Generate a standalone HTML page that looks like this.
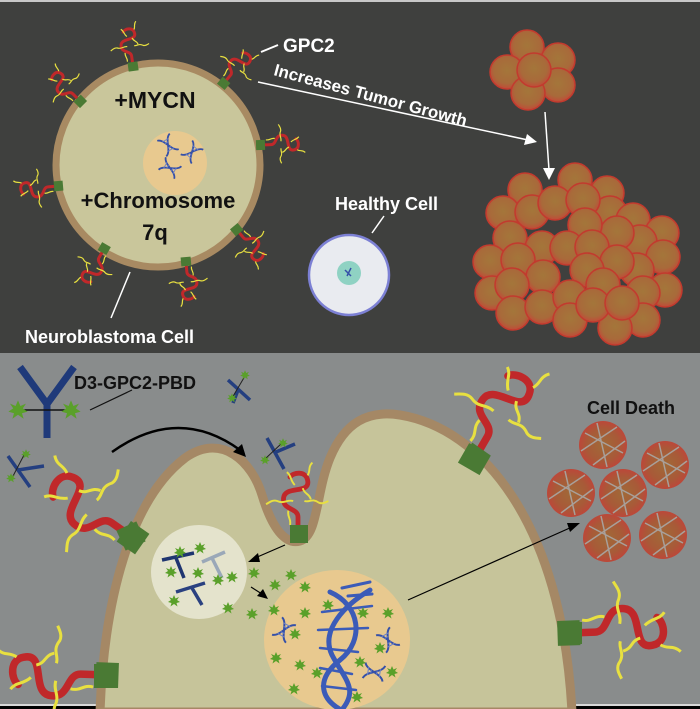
<!DOCTYPE html>
<html><head><meta charset="utf-8"><style>
html,body{margin:0;padding:0;background:#000;}
svg{display:block;}
text{font-family:"Liberation Sans",Arial,sans-serif;font-weight:bold;}
</style></head><body>
<svg width="700" height="709" viewBox="0 0 700 709" xmlns="http://www.w3.org/2000/svg">
<defs>
<radialGradient id="tg" cx="50%" cy="45%" r="55%">
<stop offset="0" stop-color="#a4763a"/><stop offset="0.7" stop-color="#a86a3a"/><stop offset="1" stop-color="#c24a38"/>
</radialGradient>
<radialGradient id="dg" cx="50%" cy="50%" r="55%">
<stop offset="0" stop-color="#a06a38"/><stop offset="0.6" stop-color="#a85a38"/><stop offset="1" stop-color="#c2423a"/>
</radialGradient>
<g id="rec">
<path d="M0,0 L0,-10 C0,-16 -10,-14 -9,-22 C-8,-30 8,-24 6,-33 C5,-39 -3,-38 -5,-35" fill="none" stroke="#c0282a" stroke-width="3" stroke-linecap="round"/>
<path d="M-3,-20 c-4,-1 -6,2 -10,0 c-3,-1 -5,1 -7,2 M4,-20 c3,1 5,-2 9,1 c2,1 4,0 6,-1 M-2,-30 c-3,-3 -2,-6 -5,-8 M3,-28 c1,4 4,3 5,7 M-6,-14 c-1,4 2,5 1,9 M6,-36 c2,-3 0,-5 3,-8" fill="none" stroke="#e8e040" stroke-width="1.2"/>
<rect x="-5" y="-4" width="10" height="9" fill="#4a7a34"/>
</g>
<g id="star">
<polygon points="0,-6 1.5,-2.5 5,-4 3,-1 6,1 2.5,2 3.5,5.5 0,3 -3.5,5.5 -2.5,2 -6,1 -3,-1 -5,-4 -1.5,-2.5" fill="#5aa02a"/>
<circle r="2.8" fill="#5aa02a"/>
</g>
<g id="dna">
<path d="M-8,-10 C0,-8 0,8 8,10 M8,-10 C0,-8 0,8 -8,10" stroke="#3550a8" stroke-width="2" fill="none"/>
<path d="M-4,-6 L4,-6 M-2,-3 L2,-3 M-2,3 L2,3 M-4,6 L4,6" stroke="#6a80c8" stroke-width="1"/>
</g>
<g id="tc"><circle r="17" fill="url(#tg)" stroke="#c23a2e" stroke-width="1.5"/></g>
<g id="dc"><circle r="24" fill="url(#dg)"/>
<path d="M-18,-12 L20,8 M-6,-22 L4,22 M-22,6 L14,-18 M-10,20 L22,-4" stroke="#a8a09a" stroke-width="1.5"/></g>
</defs>

<rect x="0" y="0" width="700" height="353" fill="#3f403e"/>
<rect x="0" y="0" width="700" height="2" fill="#c8c8c8"/>
<rect x="0" y="353" width="700" height="353" fill="#898c8c"/>
<rect x="0" y="704" width="700" height="2" fill="#d8d8d8"/>
<rect x="0" y="706" width="700" height="3" fill="#000"/>

<circle cx="158" cy="165" r="102" fill="#c9c69b" stroke="#a88a62" stroke-width="7"/>
<circle cx="175" cy="163" r="32" fill="#e8c98f"/>
<use href="#dna" transform="translate(168,145) rotate(-30) scale(0.9)"/>
<use href="#dna" transform="translate(192,152) rotate(40) scale(0.9)"/>
<use href="#dna" transform="translate(170,168) rotate(-60) scale(0.9)"/>

<use href="#rec" transform="translate(133,66) rotate(-8)"/>
<use href="#rec" transform="translate(80,101) rotate(-45)"/>
<use href="#rec" transform="translate(224,83) rotate(40)"/>
<use href="#rec" transform="translate(261,145) rotate(88)"/>
<use href="#rec" transform="translate(58,186) rotate(-95)"/>
<use href="#rec" transform="translate(237,230) rotate(140)"/>
<use href="#rec" transform="translate(186,262) rotate(175)"/>
<use href="#rec" transform="translate(104,249) rotate(-150)"/>

<text x="155" y="108" font-size="23" fill="#111" text-anchor="middle">+MYCN</text>
<text x="158" y="208" font-size="22" fill="#111" text-anchor="middle">+Chromosome</text>
<text x="155" y="240" font-size="22" fill="#111" text-anchor="middle">7q</text>

<line x1="261" y1="52" x2="278" y2="45" stroke="#fff" stroke-width="2"/>
<text x="283" y="52" font-size="19" fill="#fff">GPC2</text>
<text x="273" y="75" font-size="17" fill="#fff" transform="rotate(15 273 75)">Increases Tumor Growth</text>
<line x1="258" y1="82" x2="528" y2="140" stroke="#fff" stroke-width="1.5"/>
<polygon points="537,142 524,145 527,134" fill="#fff"/>
<line x1="545" y1="112" x2="549" y2="170" stroke="#fff" stroke-width="1.5"/>
<polygon points="549,180 543,168 555,168" fill="#fff"/>

<circle cx="349" cy="275" r="40" fill="#e9ebf0" stroke="#7c80d4" stroke-width="2.5"/>
<circle cx="349" cy="273" r="12" fill="#8fd2c3"/>
<path d="M345,270 l6,6 M351,268 l-4,8" stroke="#3550a8" stroke-width="1.5"/>
<line x1="372" y1="233" x2="384" y2="216" stroke="#fff" stroke-width="1.5"/>
<text x="335" y="210" font-size="18" fill="#fff">Healthy Cell</text>

<line x1="130" y1="272" x2="111" y2="318" stroke="#fff" stroke-width="1.5"/>
<text x="25" y="343" font-size="18" fill="#fff">Neuroblastoma Cell</text>

<use href="#tc" transform="translate(527,47)"/>
<use href="#tc" transform="translate(558,60)"/>
<use href="#tc" transform="translate(507,72)"/>
<use href="#tc" transform="translate(558,85)"/>
<use href="#tc" transform="translate(528,93)"/>
<use href="#tc" transform="translate(534,70)"/>

<g>
<use href="#tc" transform="translate(525,190)"/><use href="#tc" transform="translate(575,180)"/><use href="#tc" transform="translate(607,193)"/>
<use href="#tc" transform="translate(503,213)"/><use href="#tc" transform="translate(610,213)"/><use href="#tc" transform="translate(633,220)"/><use href="#tc" transform="translate(662,233)"/>
<use href="#tc" transform="translate(532,212)"/><use href="#tc" transform="translate(555,203)"/><use href="#tc" transform="translate(583,200)"/>
<use href="#tc" transform="translate(510,238)"/><use href="#tc" transform="translate(640,242)"/><use href="#tc" transform="translate(617,233)"/>
<use href="#tc" transform="translate(542,248)"/><use href="#tc" transform="translate(585,225)"/><use href="#tc" transform="translate(567,248)"/><use href="#tc" transform="translate(592,247)"/>
<use href="#tc" transform="translate(663,257)"/><use href="#tc" transform="translate(665,290)"/><use href="#tc" transform="translate(637,270)"/>
<use href="#tc" transform="translate(490,262)"/><use href="#tc" transform="translate(492,293)"/><use href="#tc" transform="translate(518,260)"/>
<use href="#tc" transform="translate(617,262)"/><use href="#tc" transform="translate(587,270)"/><use href="#tc" transform="translate(543,277)"/>
<use href="#tc" transform="translate(512,285)"/><use href="#tc" transform="translate(643,293)"/><use href="#tc" transform="translate(603,285)"/>
<use href="#tc" transform="translate(513,313)"/><use href="#tc" transform="translate(542,307)"/><use href="#tc" transform="translate(570,297)"/>
<use href="#tc" transform="translate(570,320)"/><use href="#tc" transform="translate(643,320)"/><use href="#tc" transform="translate(615,328)"/>
<use href="#tc" transform="translate(593,305)"/><use href="#tc" transform="translate(622,303)"/>
</g>

<path d="M100,712 C104,600 130,500 185,458 C222,432 252,462 262,495 C272,528 285,545 300,541 C318,536 316,492 330,458 C345,422 368,410 400,415 C480,428 562,520 572,712 Z" fill="#c6c49a" stroke="#a58865" stroke-width="9"/>
<ellipse cx="199" cy="572" rx="48" ry="47" fill="#e4e3cc"/>
<ellipse cx="337" cy="640" rx="73" ry="70" fill="#e8c98f"/>

<g stroke="#3b5bb8" fill="none" stroke-linecap="round">
<path d="M330,592 C360,605 365,640 340,660 C315,680 320,700 345,712" stroke-width="5"/>
<path d="M370,590 C345,605 320,630 332,655 C345,680 360,690 340,712" stroke-width="5"/>
<path d="M322,612 L372,606 M318,630 L368,628 M320,648 L358,652 M320,668 L352,674 M322,686 L356,690" stroke-width="2.5"/>
<path d="M342,588 L370,582 M348,596 L372,594" stroke-width="3"/>
</g>
<use href="#dna" transform="translate(284,630) rotate(30)"/>
<use href="#dna" transform="translate(388,640) rotate(-30)"/>
<use href="#dna" transform="translate(374,672) rotate(-80)"/>

<path d="M162,560 L194,553 M176,558 L184,578" stroke="#1f3570" stroke-width="3.5" fill="none"/>
<path d="M202,562 L225,552 M212,558 L222,578" stroke="#9aa8b8" stroke-width="3.5" fill="none"/>
<path d="M176,592 L205,583 M192,588 L202,605" stroke="#2a4180" stroke-width="3.5" fill="none"/>

<g>
<use href="#star" transform="translate(180,552)"/><use href="#star" transform="translate(200,548)"/>
<use href="#star" transform="translate(171,572)"/><use href="#star" transform="translate(198,573)"/>
<use href="#star" transform="translate(218,580)"/><use href="#star" transform="translate(232,577)"/>
<use href="#star" transform="translate(174,601)"/><use href="#star" transform="translate(254,573)"/>
<use href="#star" transform="translate(291,575)"/><use href="#star" transform="translate(275,585)"/>
<use href="#star" transform="translate(305,587)"/><use href="#star" transform="translate(228,608)"/>
<use href="#star" transform="translate(252,614)"/><use href="#star" transform="translate(274,610)"/>
<use href="#star" transform="translate(305,613)"/><use href="#star" transform="translate(363,613)"/>
<use href="#star" transform="translate(388,613)"/><use href="#star" transform="translate(295,634)"/>
<use href="#star" transform="translate(380,648)"/><use href="#star" transform="translate(276,658)"/>
<use href="#star" transform="translate(300,665)"/><use href="#star" transform="translate(317,673)"/>
<use href="#star" transform="translate(360,662)"/><use href="#star" transform="translate(392,672)"/>
<use href="#star" transform="translate(294,689)"/><use href="#star" transform="translate(357,697)"/>
<use href="#star" transform="translate(328,605)"/>
</g>

<use href="#rec" transform="translate(132,537) rotate(-55) scale(2.5)"/>
<use href="#rec" transform="translate(298,533) rotate(0) scale(1.6)"/>
<use href="#rec" transform="translate(475,458) rotate(30) scale(2.5)"/>
<use href="#rec" transform="translate(570,633) rotate(88) scale(2.5)"/>
<use href="#rec" transform="translate(106,675) rotate(-88) scale(2.5)"/>
<rect x="120" y="525" width="22" height="22" fill="#4a7a34" transform="rotate(-25 131 536)"/>
<rect x="290" y="525" width="18" height="18" fill="#4a7a34"/>
<rect x="464" y="447" width="22" height="22" fill="#4a7a34" transform="rotate(35 475 458)"/>
<rect x="558" y="622" width="24" height="22" fill="#4a7a34"/>
<rect x="94" y="664" width="24" height="24" fill="#4a7a34"/>

<!-- antibodies (explicit) -->
<g stroke="#243f80" stroke-width="3.5" fill="none">
<path d="M8,456 L30,487 M18,470 L44,466"/>
<path d="M267,438 L284,469 M276,452 L295,444"/>
<path d="M228,380 L250,400 M238,390 L233,403"/>
</g>
<line x1="24" y1="455" x2="12" y2="478" stroke="#222" stroke-width="1"/>
<use href="#star" transform="translate(26,454) scale(0.8)"/>
<use href="#star" transform="translate(11,478) scale(0.8)"/>
<line x1="282" y1="443" x2="265" y2="459" stroke="#222" stroke-width="1"/>
<use href="#star" transform="translate(283,443) scale(0.8)"/>
<use href="#star" transform="translate(265,460) scale(0.8)"/>
<line x1="245" y1="376" x2="232" y2="398" stroke="#222" stroke-width="1"/>
<use href="#star" transform="translate(245,375) scale(0.8)"/>
<use href="#star" transform="translate(232,398) scale(0.8)"/>

<path d="M20,367 L47,404 L74,367" stroke="#1f3a7a" stroke-width="7" fill="none"/>
<line x1="47" y1="402" x2="47" y2="438" stroke="#1f3a7a" stroke-width="7"/>
<line x1="18" y1="410" x2="72" y2="410" stroke="#111" stroke-width="1.5"/>
<use href="#star" transform="translate(18,410) scale(1.6)"/>
<use href="#star" transform="translate(71,410) scale(1.6)"/>
<text x="74" y="389" font-size="18" fill="#111">D3-GPC2-PBD</text>
<line x1="90" y1="410" x2="132" y2="390" stroke="#111" stroke-width="1.2"/>

<path d="M112,452 Q178,405 240,450" stroke="#000" stroke-width="2.5" fill="none"/>
<polygon points="246,457 233,452 242,444" fill="#000"/>
<line x1="285" y1="545" x2="255" y2="558" stroke="#000" stroke-width="1.2"/>
<polygon points="248,562 258,553 260,562" fill="#000"/>
<line x1="251" y1="587" x2="262" y2="594" stroke="#000" stroke-width="1.2"/>
<polygon points="268,599 257,596 263,589" fill="#000"/>
<line x1="408" y1="600" x2="572" y2="527" stroke="#000" stroke-width="1.2"/>
<polygon points="580,523 570,532 567,523" fill="#000"/>

<use href="#dc" transform="translate(603,445)"/>
<use href="#dc" transform="translate(665,465)"/>
<use href="#dc" transform="translate(571,493)"/>
<use href="#dc" transform="translate(623,493)"/>
<use href="#dc" transform="translate(607,538)"/>
<use href="#dc" transform="translate(663,535)"/>
<text x="587" y="414" font-size="18" fill="#111">Cell Death</text>
</svg>
</body></html>
